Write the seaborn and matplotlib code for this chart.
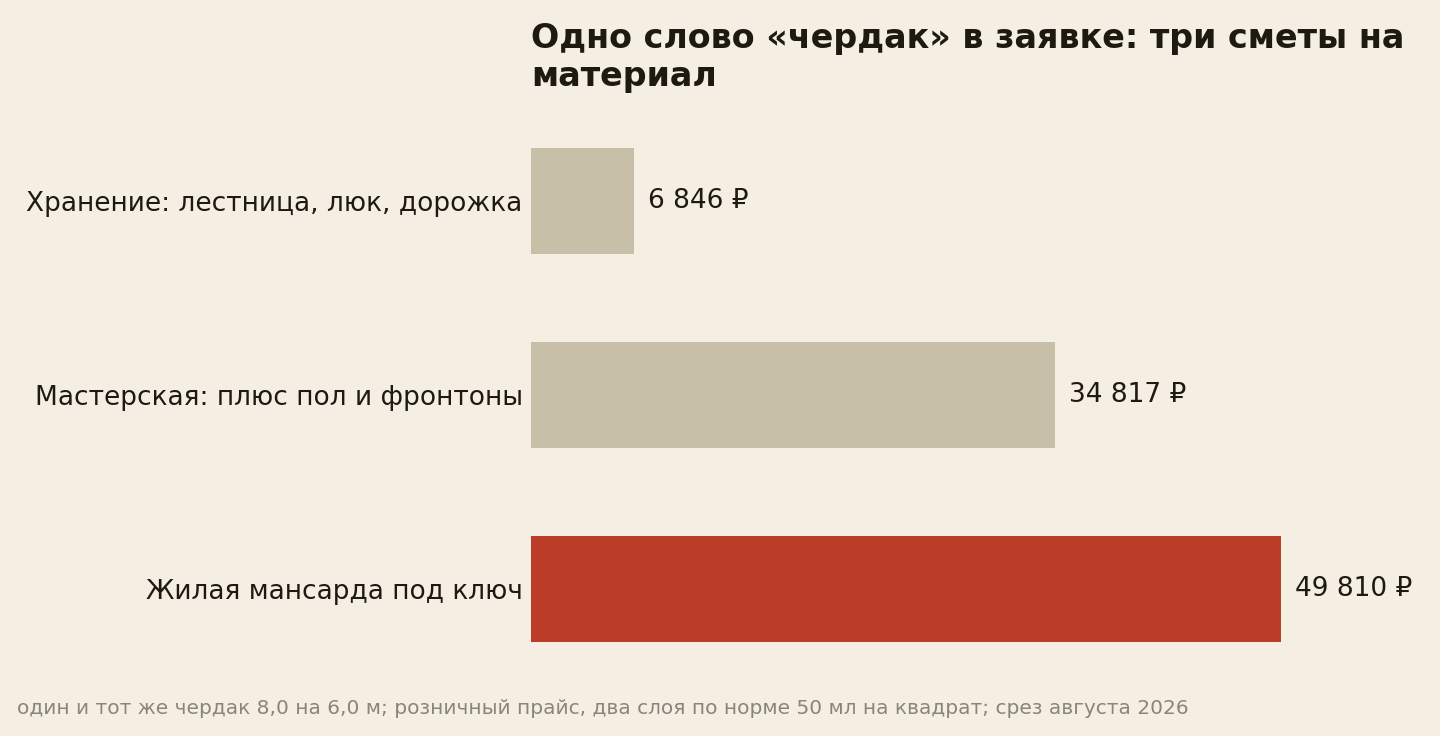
import numpy as np
import pandas as pd
import matplotlib
matplotlib.use("Agg")
import matplotlib.pyplot as plt
import seaborn as sns

# data
categories = ["Хранение: лестница, люк, дорожка",
              "Мастерская: плюс пол и фронтоны",
              "Жилая мансарда под ключ"]
costs = [6846, 34817, 49810]
value_labels = ["6 846 ₽", "34 817 ₽", "49 810 ₽"]
bar_colors = ["#C8BFA8", "#C8BFA8", "#BC3D27"]

title = "Одно слово «чердак» в заявке: три сметы на\nматериал"
note = ("один и тот же чердак 8,0 на 6,0 м; розничный прайс, два слоя по норме "
        "50 мл на квадрат; срез августа 2026")

bg = "#F5EFE3"
ink = "#1E1A12"

sns.set_theme(style="white")
plt.rcParams["font.family"] = ["DejaVu Sans"]

df = pd.DataFrame({"cat": categories, "cost": costs})

fig = plt.figure(figsize=(14.4, 7.36), dpi=100, facecolor=bg)
ax = fig.add_axes([531 / 1440, 1 - 686 / 736, 885 / 1440, 582 / 736])
ax.set_facecolor(bg)

sns.barplot(data=df, x="cost", y="cat", hue="cat", palette=bar_colors,
            legend=False, width=0.55, saturation=1, linewidth=0, ax=ax)

ax.set_xlim(0, 49810 * 1.18)
ax.set_ylim(2.5, -0.5)
for i, (v, lab) in enumerate(zip(costs, value_labels)):
    ax.text(v + 900, i, lab, va="center", ha="left", fontsize=19, color=ink)

for s in ax.spines.values():
    s.set_visible(False)
ax.set_xticks([])
ax.set_xlabel("")
ax.set_ylabel("")
ax.tick_params(axis="y", length=0, pad=6, labelsize=19, labelcolor=ink)

fig.text(531 / 1440, 1 - 22 / 736, title, ha="left", va="top", fontsize=24,
         fontweight="bold", color=ink, linespacing=1.2)
fig.text(17 / 1440, 1 - 708 / 736, note, ha="left", va="center", fontsize=14.5,
         color="#8A857A")

fig.savefig("out.png", dpi=100, facecolor=bg)
